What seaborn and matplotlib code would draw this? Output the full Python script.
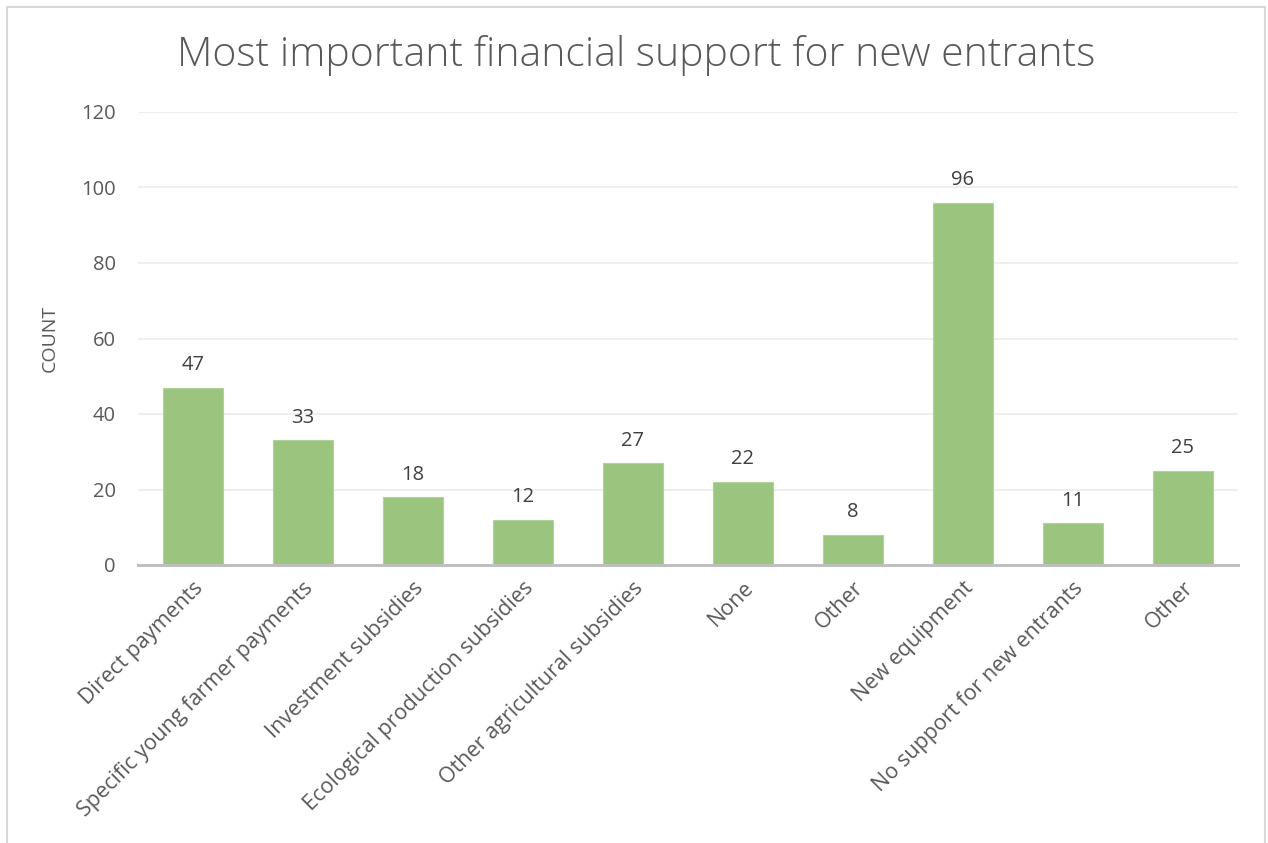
import numpy as np
import pandas as pd
import matplotlib
matplotlib.use("Agg")
import matplotlib.pyplot as plt
from matplotlib.patches import Rectangle
import seaborn as sns

categories = [
    "Direct payments",
    "Specific young farmer payments",
    "Investment subsidies",
    "Ecological production subsidies",
    "Other agricultural subsidies",
    "None",
    "Other",
    "New equipment",
    "No support for new entrants",
    "Other",
]
counts = [47, 33, 18, 12, 27, 22, 8, 96, 11, 25]
y_ticks = [0, 20, 40, 60, 80, 100, 120]

title = "Most important financial support for new entrants"
y_label = "COUNT"

BAR = "#9BC57F"
TEXT = "#595959"

sns.set_theme(style="white")
plt.rcParams["font.family"] = ["Open Sans", "DejaVu Sans"]

df = pd.DataFrame({"slot": list(range(len(categories))), "count": counts})

fig = plt.figure(figsize=(12.68, 8.43), dpi=100)
ax = fig.add_axes([138 / 1268, 1 - 565 / 843, 1100 / 1268, 453 / 843])

sns.barplot(data=df, x="slot", y="count", color=BAR, saturation=1, width=0.55,
            edgecolor="#AFD29A", linewidth=0.8, ax=ax)

ax.set_ylim(0, 120)
ax.set_xlim(-0.5, len(categories) - 0.5)
ax.set_yticks(y_ticks)
ax.set_yticklabels([str(t) for t in y_ticks], fontsize=14.5, color=TEXT)
ax.yaxis.grid(True, color="#EBEBEB", linewidth=1.2)
ax.set_axisbelow(True)
ax.tick_params(axis="y", length=0, pad=16)
ax.tick_params(axis="x", length=0, pad=9)

ax.set_xticks(range(len(categories)))
ax.set_xticklabels(categories, rotation=45, ha="right", va="top",
                   rotation_mode="anchor", fontsize=15.5, color=TEXT)

for side in ("top", "right", "left"):
    ax.spines[side].set_visible(False)
ax.spines["bottom"].set_color("#BFBFBF")
ax.spines["bottom"].set_linewidth(2.2)

ax.set_xlabel("")
ax.set_ylabel(y_label, fontsize=14, color=TEXT, labelpad=16)

ax.bar_label(ax.containers[0], labels=[str(v) for v in counts], padding=9,
             fontsize=14.5, color="#404040")

fig.text(636 / 1268, 1 - 56 / 843, title, ha="center", va="center",
         fontsize=29.5, color=TEXT, fontweight="light")

fig.patches.append(Rectangle((7 / 1268, -0.05), 1258 / 1268, 1.05 - 7 / 843,
                             transform=fig.transFigure, fill=False,
                             edgecolor="#D9D9D9", linewidth=1.5))

fig.savefig("out.png", dpi=100)
